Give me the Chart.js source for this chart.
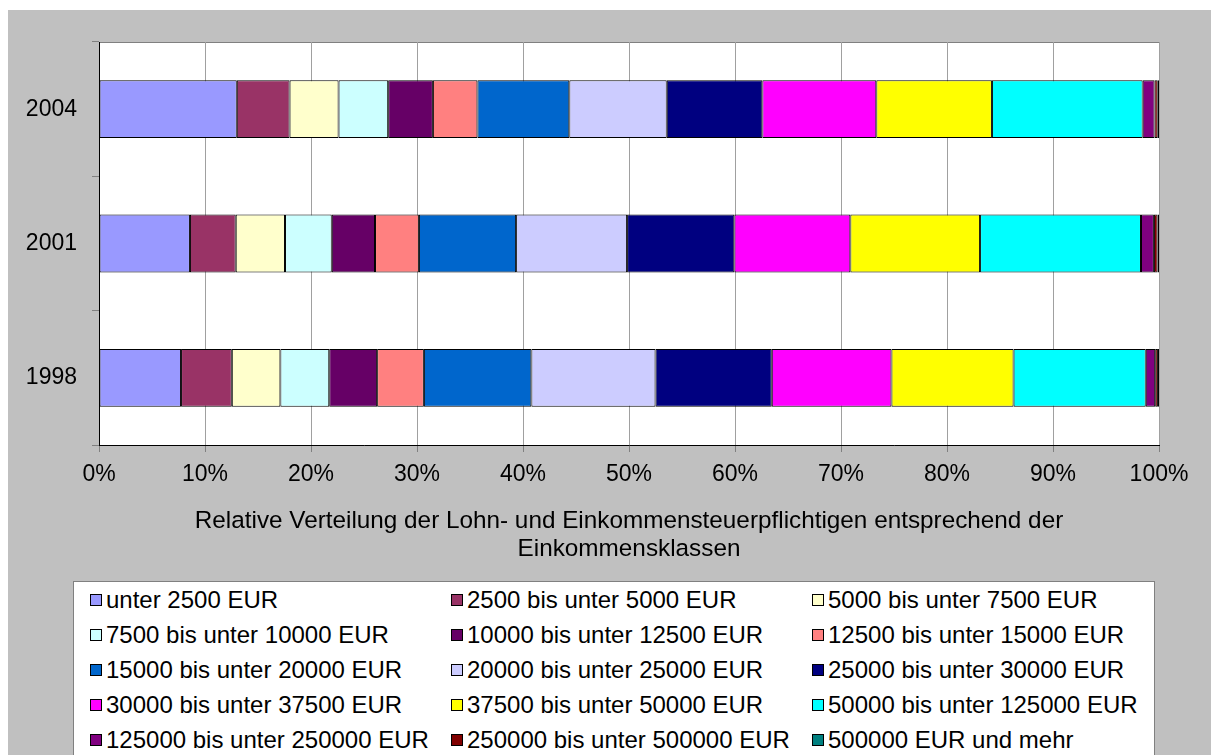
<!DOCTYPE html>
<html lang="de">
<head>
    <meta charset="UTF-8">
    <title>Relative Verteilung der Lohn- und Einkommensteuerpflichtigen</title>
    <style>
        html, body {
            margin: 0;
            width: 1211px;
            height: 755px;
            overflow: hidden;
            background: #ffffff;
            font-family: "Liberation Sans", Arial, sans-serif;
        }
        #chart {
            position: absolute;
            left: 0;
            top: 0;
        }
        .legend-box {
            position: absolute;
            left: 73px;
            top: 581px;
            width: 1082px;
            height: 220px;
            background: #ffffff;
            border: 1px solid #808080;
            box-sizing: border-box;
            padding: 0 0 0 16px;
            display: grid;
            grid-template-columns: 361px 361px auto;
            grid-auto-rows: 35px;
        }
        .legend-item {
            display: flex;
            align-items: center;
            font-size: 24px;
            color: #000;
            white-space: nowrap;
        }
        .legend-item .swatch {
            width: 12px;
            height: 12px;
            border: 1px solid #000;
            box-sizing: border-box;
            margin-right: 4px;
            flex: none;
        }
    </style>
</head>
<body>

<canvas id="chart" width="1211" height="755"></canvas>
<div class="legend-box" id="legend"></div>

<script src="https://cdn.jsdelivr.net/npm/chart.js"></script>

<script>
    // Jahre (von oben nach unten)
    const years = ['2004', '2001', '1998'];

    // Einkommensklassen
    const incomeClasses = [
        'unter 2500 EUR',
        '2500 bis unter 5000 EUR',
        '5000 bis unter 7500 EUR',
        '7500 bis unter 10000 EUR',
        '10000 bis unter 12500 EUR',
        '12500 bis unter 15000 EUR',
        '15000 bis unter 20000 EUR',
        '20000 bis unter 25000 EUR',
        '25000 bis unter 30000 EUR',
        '30000 bis unter 37500 EUR',
        '37500 bis unter 50000 EUR',
        '50000 bis unter 125000 EUR',
        '125000 bis unter 250000 EUR',
        '250000 bis unter 500000 EUR',
        '500000 EUR und mehr'
    ];

    // Anteile in % je Einkommensklasse
    const share2004 = [13.0, 4.98, 4.62, 4.68, 4.22, 4.2, 8.67, 9.19, 9.02, 10.75, 10.91, 14.22, 1.12, 0.3, 0.12];
    const share2001 = [8.58, 4.32, 4.65, 4.41, 4.08, 4.14, 9.17, 10.47, 10.12, 10.94, 12.24, 15.18, 1.22, 0.35, 0.13];
    const share1998 = [7.74, 4.79, 4.58, 4.61, 4.52, 4.41, 10.14, 11.71, 10.97, 11.29, 11.52, 12.47, 0.89, 0.26, 0.1];

    const xTicks = [0, 10, 20, 30, 40, 50, 60, 70, 80, 90, 100];

    const classColors = [
        '#9999FF', '#993366', '#FFFFCC', '#CCFFFF', '#660066',
        '#FF8080', '#0066CC', '#CCCCFF', '#000080', '#FF00FF',
        '#FFFF00', '#00FFFF', '#800080', '#800000', '#008080'
    ];

    const axisTitle = [
        'Relative Verteilung der Lohn- und Einkommensteuerpflichtigen entsprechend der',
        'Einkommensklassen'
    ];

    const FONT = '"Liberation Sans", Arial, sans-serif';

    const datasets = incomeClasses.map((label, i) => ({
        label: label,
        data: [share2004[i], share2001[i], share1998[i]],
        backgroundColor: classColors[i],
        borderColor: '#000000',
        borderWidth: 1,
        borderSkipped: false,
        categoryPercentage: 1.0,
        barPercentage: 0.43
    }));

    // grauer Hintergrund, weisse Zeichenflaeche
    const backgroundPlugin = {
        id: 'excelBackground',
        beforeDraw(chart) {
            const { ctx, chartArea } = chart;
            ctx.save();
            ctx.fillStyle = '#c0c0c0';
            ctx.fillRect(8, 10, chart.width - 8, chart.height - 10);
            ctx.fillStyle = '#ffffff';
            ctx.fillRect(chartArea.left, chartArea.top, chartArea.right - chartArea.left, chartArea.bottom - chartArea.top);
            ctx.strokeStyle = '#808080';
            ctx.lineWidth = 1;
            ctx.beginPath();
            ctx.moveTo(chartArea.left, chartArea.top + 0.5);
            ctx.lineTo(chartArea.right, chartArea.top + 0.5);
            ctx.stroke();
            ctx.restore();
        }
    };

    const chart = new Chart(document.getElementById('chart'), {
        type: 'bar',
        data: { labels: years, datasets: datasets },
        options: {
            indexAxis: 'y',
            responsive: false,
            animation: false,
            layout: { padding: { left: 8, right: 52, top: 42, bottom: 175 } },
            plugins: {
                legend: { display: false },
                tooltip: { enabled: false }
            },
            scales: {
                x: {
                    stacked: true,
                    min: 0,
                    max: 100,
                    afterBuildTicks: scale => { scale.ticks = xTicks.map(v => ({ value: v })); },
                    afterFit: scale => { scale.height = 135; },
                    ticks: {
                        callback: v => v + '%',
                        color: '#000000',
                        font: { family: FONT, size: 23 },
                        padding: 9,
                        maxRotation: 0,
                        autoSkip: false
                    },
                    grid: {
                        color: '#a0a0a0',
                        tickColor: '#808080',
                        tickLength: 7,
                        lineWidth: 1
                    },
                    border: { color: '#000000', width: 1 },
                    title: {
                        display: true,
                        text: axisTitle,
                        color: '#000000',
                        font: { family: FONT, size: 24.3, lineHeight: '28px' },
                        padding: { top: 0, bottom: 17 }
                    }
                },
                y: {
                    stacked: true,
                    afterFit: scale => { scale.width = 91; },
                    ticks: {
                        color: '#000000',
                        font: { family: FONT, size: 23 },
                        padding: 15
                    },
                    grid: {
                        drawOnChartArea: false,
                        tickColor: '#808080',
                        tickLength: 7
                    },
                    border: { color: '#000000', width: 1 }
                }
            }
        },
        plugins: [backgroundPlugin]
    });

    // Legende
    const legendBox = document.getElementById('legend');
    chart.data.datasets.forEach(ds => {
        const item = document.createElement('div');
        item.className = 'legend-item';
        const swatch = document.createElement('span');
        swatch.className = 'swatch';
        swatch.style.backgroundColor = ds.backgroundColor;
        item.appendChild(swatch);
        item.appendChild(document.createTextNode(ds.label));
        legendBox.appendChild(item);
    });
</script>
</body>
</html>
